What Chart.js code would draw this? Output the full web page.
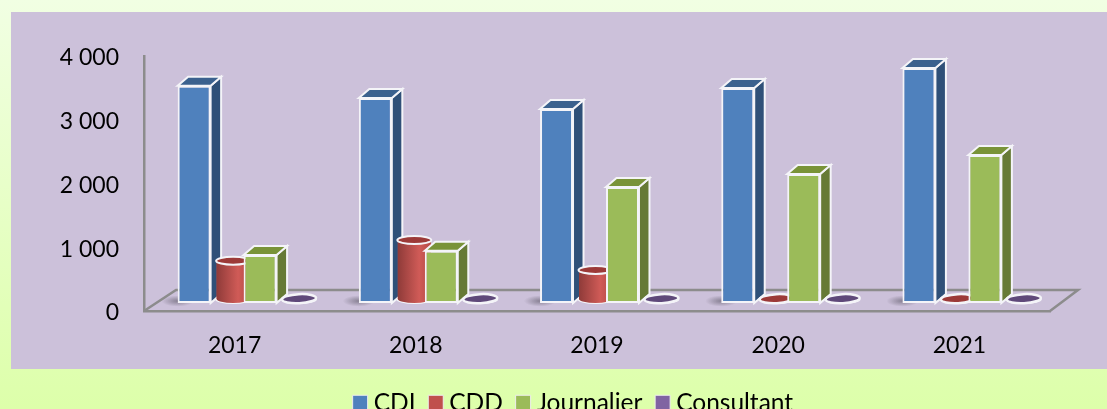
<!DOCTYPE html>
<html>
<head>
<meta charset="utf-8">
<script src="https://cdn.jsdelivr.net/npm/chart.js@4"></script>
<style>
html, body { margin: 0; padding: 0; width: 1107px; height: 409px; overflow: hidden; }
body { background: linear-gradient(180deg, #f1ffe3 0%, #ddffaa 100%); position: relative; }
#panel { position: absolute; left: 11px; top: 12px; width: 1096px; height: 357px; background: #ccc1da; }
canvas { position: absolute; left: 0; top: 0; }
</style>
</head>
<body>
<div id="panel"></div>
<canvas id="chart1" width="1107" height="425"></canvas>
<script>
const categories = ['2017', '2018', '2019', '2020', '2021'];
const cdi = [3408, 3216, 3043, 3373, 3686];
const cdd = [600, 925, 455, 5, 5];
const journalier = [753, 820, 1820, 2024, 2322];
const consultant = [5, 5, 5, 5, 5];

const canvasHeight = 425;
const floorBottom = 311;

// box faces: [side, top]
const faces = {
    CDI: ['#2f5078', '#3b618e'],
    Journalier: ['#667a36', '#799338']
};
// cylinders: [flat colour, top ellipse, gradient dark, gradient light]
const cylinders = {
    CDD: ['#b54a47', '#9c3a38', '#8f3b39', '#d05b57'],
    Consultant: ['#8064a2', '#5f497a', '#5f497a', '#8064a2']
};

function poly(ctx, pts, fill) {
    ctx.beginPath();
    pts.forEach((p, i) => i ? ctx.lineTo(p[0], p[1]) : ctx.moveTo(p[0], p[1]));
    ctx.closePath();
    ctx.fillStyle = fill;
    ctx.fill();
    ctx.strokeStyle = '#f4f4f8';
    ctx.lineWidth = 2;
    ctx.stroke();
}

function ellipse(ctx, x, y, rx, ry, fill, tilt) {
    ctx.beginPath();
    ctx.ellipse(x, y, rx, ry, tilt || 0, 0, Math.PI * 2);
    ctx.fillStyle = fill;
    ctx.fill();
    ctx.strokeStyle = '#f4f4f8';
    ctx.lineWidth = tilt ? 2.5 : 2;
    ctx.stroke();
}

function drawBox(ctx, meta, box) {
    ctx.translate(9, -8);
    meta.data.forEach(el => {
        const l = el.x - el.width / 2, r = el.x + el.width / 2;
        if (meta.label === 'CDI') {
            // smear on the floor left of the blue bars
            ctx.save();
            ctx.translate(l, el.base - 2);
            ctx.scale(1, 0.35);
            const g = ctx.createRadialGradient(0, 0, 0, 0, 0, 16);
            g.addColorStop(0, 'rgba(90,85,100,0.6)');
            g.addColorStop(1, 'rgba(90,85,100,0)');
            ctx.fillStyle = g;
            ctx.fillRect(-16, -16, 32, 32);
            ctx.restore();
        }
        poly(ctx, [[r, el.y], [r + 10.5, el.y - 9], [r + 10.5, el.base - 9], [r, el.base]], box[0]);
        poly(ctx, [[l, el.y], [l + 10.5, el.y - 9], [r + 10.5, el.y - 9], [r, el.y]], box[1]);
    });
    meta.controller.draw();
}

function drawCylinder(ctx, meta, c) {
    ctx.translate(15, -12);
    meta.data.forEach(el => ellipse(ctx, el.x, el.base, el.width / 2 + 0.5, 4, c[0]));
    meta.controller.draw();
    meta.data.forEach(el => {
        const l = el.x - el.width / 2, r = el.x + el.width / 2;
        const g = ctx.createLinearGradient(l, 0, r, 0);
        g.addColorStop(0, c[2]);
        g.addColorStop(0.65, c[3]);
        g.addColorStop(1, c[0]);
        ctx.fillStyle = g;
        ctx.fillRect(l, el.y, el.width, el.base - el.y);
        ctx.beginPath();
        ctx.ellipse(el.x, el.base, el.width / 2, 4, 0, 0, Math.PI);
        ctx.fill();
        // the flat discs lean a little in the original
        const flat = el.base - el.y < 3;
        ellipse(ctx, el.x, el.y, el.width / 2 + 0.5, flat ? 4.5 : 4, c[1], flat ? -0.05 : 0);
    });
}

const bars3d = {
    id: 'bars3d',
    afterLayout(chart) {
        // legend sits right of the canvas centre in the original
        chart.legend.left += 51;
        chart.legend.right += 51;
    },
    beforeDraw(chart) {
        // floor, the two axes themselves come from the scales
        const a = chart.chartArea, ctx = chart.ctx;
        ctx.save();
        ctx.strokeStyle = '#8c8c8c';
        ctx.lineWidth = 2.5;
        ctx.beginPath();
        ctx.moveTo(a.left, a.bottom);
        ctx.lineTo(a.left + 32, a.bottom - 21);
        ctx.lineTo(a.right + 28, a.bottom - 21);
        ctx.lineTo(a.right, a.bottom);
        ctx.stroke();
        ctx.restore();
    },
    beforeDatasetsDraw(chart) {
        // blue first, so red sits on its side face and green sits on red
        const ctx = chart.ctx;
        chart.data.datasets.forEach((d, i) => {
            const meta = chart.getDatasetMeta(i);
            ctx.save();
            if (faces[d.label]) drawBox(ctx, meta, faces[d.label]);
            else drawCylinder(ctx, meta, cylinders[d.label]);
            ctx.restore();
        });
        return false;
    }
};

new Chart('chart1', {
    type: 'bar',
    plugins: [bars3d],
    data: {
        labels: categories,
        datasets: [
            { label: 'CDI', data: cdi, backgroundColor: '#4f81bd', borderColor: '#f4f4f8', borderWidth: 2, borderSkipped: false },
            { label: 'CDD', data: cdd, backgroundColor: '#c0504d', borderWidth: 0 },
            { label: 'Journalier', data: journalier, backgroundColor: '#9bbb59', borderColor: '#f4f4f8', borderWidth: 2, borderSkipped: false },
            { label: 'Consultant', data: consultant, backgroundColor: '#8064a2', borderWidth: 0 }
        ]
    },
    options: {
        responsive: false,
        animation: false,
        categoryPercentage: 0.728,
        barPercentage: 1,
        layout: { padding: { left: 0, right: 57, top: 56, bottom: 0 } },
        scales: {
            y: {
                min: 0,
                max: 4000,
                grid: { display: false, drawTicks: false },
                border: { color: '#8c8c8c', width: 2.5 },
                ticks: {
                    stepSize: 1000,
                    padding: 25,
                    labelOffset: 2,
                    color: '#000000',
                    font: { family: 'Lato', size: 23 },
                    callback: v => v === 0 ? '0' : (v / 1000) + ' 000'
                },
                afterFit(s) { s.width = 144; }
            },
            x: {
                grid: { display: false, drawTicks: false },
                border: { color: '#8c8c8c', width: 2.5 },
                ticks: {
                    padding: 21,
                    color: '#000000',
                    font: { family: 'Lato', size: 23 }
                },
                afterFit(s) { s.height = canvasHeight - floorBottom - s.chart.legend.height; }
            }
        },
        plugins: {
            tooltip: { enabled: false },
            legend: {
                position: 'bottom',
                labels: {
                    color: '#000000',
                    font: { family: 'Lato', size: 24.5 },
                    usePointStyle: true,
                    pointStyle: 'rect',
                    boxWidth: 2.5,
                    boxHeight: 15,
                    padding: 19,
                    generateLabels(chart) {
                        return chart.data.datasets.map((d, i) => ({
                            text: d.label, fillStyle: d.backgroundColor, strokeStyle: '#eeeeee',
                            lineWidth: 1, datasetIndex: i, pointStyle: 'rect', fontColor: '#000000'
                        }));
                    }
                }
            }
        }
    }
});
</script>
</body>
</html>
